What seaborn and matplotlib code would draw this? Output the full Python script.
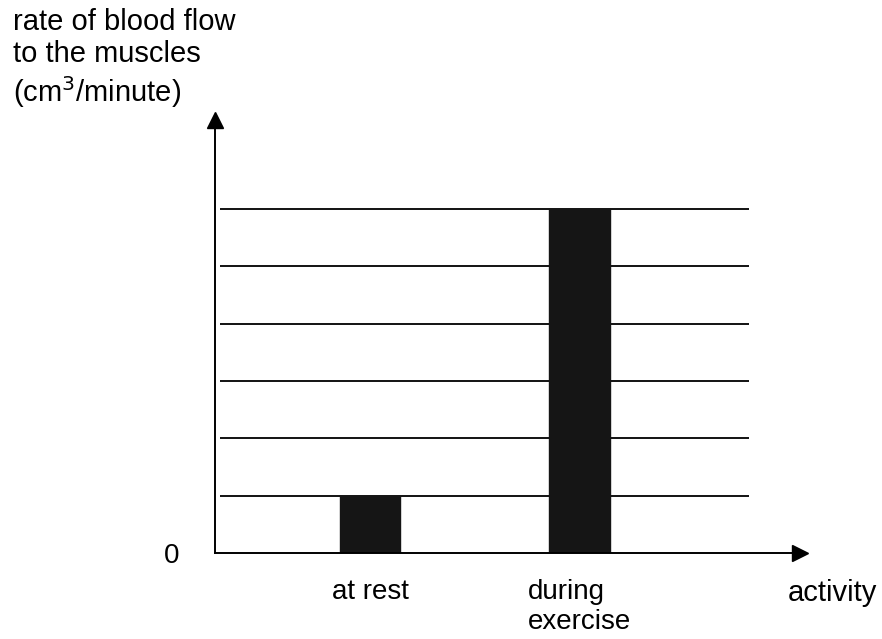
import matplotlib
matplotlib.use('Agg')
import matplotlib.pyplot as plt
import seaborn as sns
import pandas as pd

# bar heights in grid units
activities = ["at rest", "during\nexercise"]
blood_flow = [1, 6]
grid_levels = [1, 2, 3, 4, 5, 6]

sns.set_style("white")
plt.rcParams['font.family'] = ['Liberation Sans', 'DejaVu Sans']
plt.rcParams['text.color'] = 'black'
plt.rcParams['xtick.color'] = 'black'
plt.rcParams['ytick.color'] = 'black'

df = pd.DataFrame({"activity": activities, "flow": blood_flow})

fig = plt.figure(figsize=(8.82, 6.39), dpi=100)
ax = fig.add_axes([0.2438, 0.1346, 0.907 - 0.2438, 0.8122 - 0.1346])

# horizontal guide lines behind the bars
ax.hlines(grid_levels, -0.716, 1.81, color='black', lw=1.3, zorder=1)

sns.barplot(data=df, x="activity", y="flow", color="#151515", width=0.29,
            saturation=1, edgecolor="#151515", ax=ax, zorder=3)

ax.set_xlim(-0.74, 2.053)
ax.set_ylim(0, 7.556)

for s in ["top", "right"]:
    ax.spines[s].set_visible(False)
for s in ["left", "bottom"]:
    ax.spines[s].set_color("black")
    ax.spines[s].set_linewidth(1.4)
    ax.spines[s].set_zorder(4)

# arrow heads on the axes
ax.plot(1, 0, marker='>', color='black', markersize=11, transform=ax.transAxes, clip_on=False, zorder=5)
ax.plot(0, 1, marker='^', color='black', markersize=11, transform=ax.transAxes, clip_on=False, zorder=5)

ax.set_yticks([0])
ax.set_yticklabels(["0"], fontsize=20)
ax.tick_params(axis='y', length=0, pad=26)
ax.set_xticks([0, 1])
ax.set_xticklabels(activities, fontsize=20, multialignment='left', linespacing=1.2)
ax.tick_params(axis='x', length=0, pad=19)
ax.set_xlabel("")
ax.set_ylabel("")

fig.text(13 / 882, 1 - 8 / 639, "rate of blood flow\nto the muscles\n(cm$^3$/minute)",
         fontsize=21, ha='left', va='top', linespacing=1.2)
fig.text(788 / 882, 1 - 593 / 639, "activity", fontsize=21, ha='left', va='center')

fig.savefig("out.png", dpi=100)
